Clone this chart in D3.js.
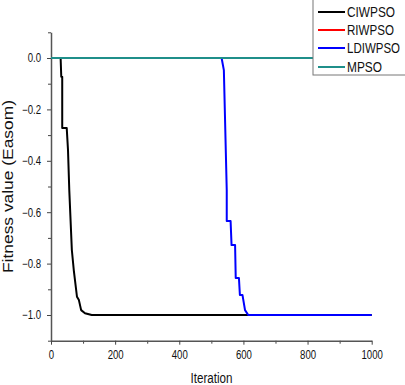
<!DOCTYPE html>
<html>
<head>
<meta charset="utf-8">
<script src="https://cdn.jsdelivr.net/npm/d3@7"></script>
<style>
  body { margin: 0; background: #fff; }
  svg { display: block; }
  text { font-family: "Liberation Sans Narrow", "Liberation Sans", Arial, sans-serif; fill: #111; }
</style>
</head>
<body>
<svg width="405" height="385"></svg>
<script>
// series names and colours as in the legend
const seriesNames = ["CIWPSO", "RIWPSO", "LDIWPSO", "MPSO"];
const seriesColors = ["#000000", "#ff0000", "#0000ff", "#1f8f8a"];

// values (iteration, fitness)
const ciwIter = [0, 30, 32, 35, 35, 49, 53, 57, 65, 71, 81, 87, 94, 106, 127, 1000];
const ciwFit = [0, 0, -0.073, -0.073, -0.272, -0.272, -0.358, -0.514, -0.747, -0.825, -0.929, -0.942, -0.981, -0.993, -1.0, -1.0];

const riwIter = [0, 1000];
const riwFit = [0, 0];

const ldiwIter = [0, 532, 539, 548, 548, 560, 563, 574, 576, 586, 589, 597, 605, 615, 1000];
const ldiwFit = [0, 0, -0.047, -0.514, -0.634, -0.634, -0.728, -0.728, -0.856, -0.856, -0.922, -0.922, -0.981, -1.0, -1.0];

const mpsoIter = [0, 1000];
const mpsoFit = [0, 0];

const xTicks = [0, 200, 400, 600, 800, 1000];
const yTicks = [0.0, -0.2, -0.4, -0.6, -0.8, -1.0];

const svg = d3.select("svg");

const x = d3.scaleLinear().domain([0, 1000]).range([51, 371.7]);
const y = d3.scaleLinear().domain([-1.1, 0.1]).range([340.7, 32.3]);

// squeeze tick labels horizontally, like the reference's narrow type
function narrow(sel, f) {
  sel.each(function () {
    const w = this.getComputedTextLength();
    d3.select(this).attr("textLength", w * f).attr("lengthAdjust", "spacingAndGlyphs");
  });
}

// minor ticks first, then major
svg.append("g")
  .attr("transform", "translate(0,340.7)")
  .call(d3.axisBottom(x).tickValues(d3.range(100, 1000, 200)).tickSize(3).tickSizeOuter(0).tickFormat(""))
  .call(g => g.select(".domain").remove())
  .call(g => g.selectAll("line").attr("stroke", "#444"));

svg.append("g")
  .attr("transform", "translate(51,0)")
  .call(d3.axisLeft(y).tickValues([-1.1, -0.9, -0.7, -0.5, -0.3, -0.1, 0.1]).tickSize(3).tickSizeOuter(0).tickFormat(""))
  .call(g => g.select(".domain").remove())
  .call(g => g.selectAll("line").attr("stroke", "#444"));

const xAxis = svg.append("g")
  .attr("transform", "translate(0,340.7)")
  .call(d3.axisBottom(x).tickValues(xTicks).tickSize(4).tickSizeOuter(0).tickPadding(6).tickFormat(d3.format("d")));
xAxis.select(".domain").attr("stroke", "#555").attr("stroke-width", 1.5);
xAxis.selectAll("line").attr("stroke", "#444");
xAxis.selectAll("text").style("font-size", "12px").attr("fill", "#222").call(narrow, 0.8);

const yAxis = svg.append("g")
  .attr("transform", "translate(51,0)")
  .call(d3.axisLeft(y).tickValues(yTicks).tickSize(4).tickSizeOuter(0).tickPadding(6).tickFormat(d3.format(".1f")));
yAxis.select(".domain").attr("stroke", "#555").attr("stroke-width", 1.5);
yAxis.selectAll("line").attr("stroke", "#444");
yAxis.selectAll("text").style("font-size", "12px").attr("fill", "#222").call(narrow, 0.8);

// curves: drawn so that MPSO sits over RIWPSO, and LDIWPSO over CIWPSO
const series = [
  { iter: riwIter, fit: riwFit, color: seriesColors[1] },
  { iter: ciwIter, fit: ciwFit, color: seriesColors[0] },
  { iter: ldiwIter, fit: ldiwFit, color: seriesColors[2] },
  { iter: mpsoIter, fit: mpsoFit, color: seriesColors[3] }
];

const line = d3.line().x(d => x(d[0])).y(d => y(d[1]));

svg.selectAll(".curve")
  .data(series)
  .enter()
  .append("path")
  .attr("class", "curve")
  .attr("d", s => line(s.iter.map((v, i) => [v, s.fit[i]])))
  .attr("fill", "none")
  .attr("stroke", s => s.color)
  .attr("stroke-width", 2)
  .attr("stroke-linejoin", "round");

// axis titles
svg.append("text")
  .attr("x", 211.5)
  .attr("y", 383)
  .attr("text-anchor", "middle")
  .attr("textLength", 42)
  .attr("lengthAdjust", "spacingAndGlyphs")
  .style("font-size", "14px")
  .text("Iteration");

svg.append("text")
  .attr("transform", "translate(13,186.5) rotate(-90)")
  .attr("text-anchor", "middle")
  .attr("textLength", 173)
  .attr("lengthAdjust", "spacingAndGlyphs")
  .style("font-family", "'Liberation Sans', Arial, sans-serif")
  .style("font-size", "14px")
  .text("Fitness value (Easom)");

// legend
const legend = svg.append("g").attr("id", "legend");
legend.append("rect")
  .attr("x", 313).attr("y", -1)
  .attr("width", 100).attr("height", 76)
  .attr("fill", "#fff")
  .attr("stroke", "#777");

const legendRows = [12, 30, 48, 67];
const legendWidths = [48, 47, 53, 35];

const items = legend.selectAll(".item")
  .data(seriesNames)
  .enter()
  .append("g")
  .attr("class", "item")
  .attr("transform", (d, i) => `translate(0,${legendRows[i]})`);

items.append("line")
  .attr("x1", 318).attr("x2", 345)
  .attr("stroke", (d, i) => seriesColors[i])
  .attr("stroke-width", 2);

items.append("text")
  .attr("x", 347)
  .attr("y", 5)
  .attr("textLength", (d, i) => legendWidths[i])
  .attr("lengthAdjust", "spacingAndGlyphs")
  .style("font-size", "14.5px")
  .text(d => d);
</script>
</body>
</html>
